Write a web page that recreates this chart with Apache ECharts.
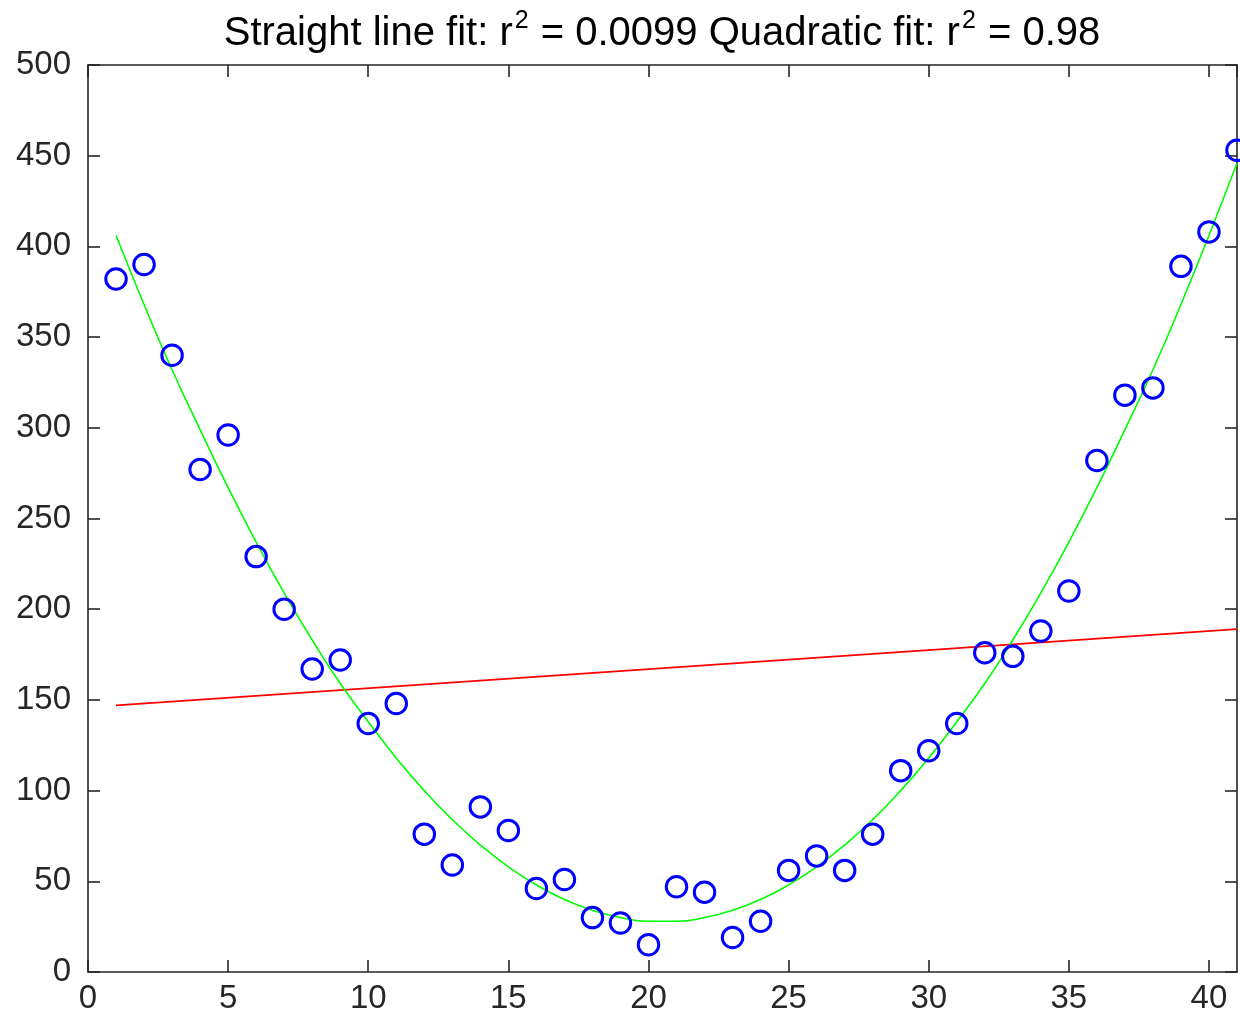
<!DOCTYPE html>
<html>
<head>
<meta charset="utf-8">
<script src="https://cdn.jsdelivr.net/npm/echarts@6/dist/echarts.min.js"></script>
<style>
  html, body { margin: 0; padding: 0; background: #fff; }
  #chart { width: 1240px; height: 1018px; }
</style>
</head>
<body>
<div id="chart"></div>
<script>
// Observations
const xs = [1,2,3,4,5,6,7,8,9,10,11,12,13,14,15,16,17,18,19,20,21,22,23,24,25,26,27,28,29,30,31,32,33,34,35,36,37,38,39,40,41];
const ys = [382,390,340,277,296,229,200,167,172,137,148,76,59,91,78,46,51,30,27,15,47,44,19,28,56,64,56,76,111,122,137,176,174,188,210,282,318,322,389,408,453];

// Straight line fit, endpoints
const lineX = [1, 41];
const lineY = [147, 189];

// Quadratic fit, sampled at each x
const quadY = [406,368,332,299,267,237,209,183,159,138,118,100,84,70,58,48,40,34,30,28,28,30,34,40,48,58,70,84,100,118,138,159,183,209,237,267,299,332,368,406,446];

const xTicks = [0,5,10,15,20,25,30,35,40];

const axisColor = '#262626';
const font = 'Liberation Sans, Arial, Helvetica, sans-serif';

const chart = echarts.init(document.getElementById('chart'));

// Shared look for the four sides of the box
function frameAxis() {
  return {
    axisLine: { show: true, onZero: false, lineStyle: { color: axisColor, width: 1.6 } },
    axisTick: { show: true, inside: true, length: 12, lineStyle: { color: axisColor, width: 1.6 } },
    splitLine: { show: false }
  };
}

chart.setOption({
  animation: false,
  backgroundColor: '#fff',
  title: {
    text: '{a|Straight line fit: r}{s|2}{a| = 0.0099 Quadratic fit: r}{s|2}{a| = 0.98}',
    left: 657,
    top: 5,
    textAlign: 'center',
    textStyle: {
      rich: {
        a: { fontFamily: font, fontSize: 40, fontWeight: 'normal', color: '#000', verticalAlign: 'bottom', lineHeight: 44 },
        s: { fontFamily: font, fontSize: 25, fontWeight: 'normal', color: '#000', verticalAlign: 'bottom', lineHeight: 44, padding: [0, 1, 20, 2] }
      }
    }
  },
  grid: { left: 88, right: 3, top: 65, bottom: 46, containLabel: false },
  xAxis: [
    Object.assign({
      type: 'value', min: 0, max: 41, interval: 5, position: 'bottom',
      axisLabel: {
        color: axisColor, fontFamily: font, fontSize: 33, margin: 10,
        showMaxLabel: false,
        formatter: v => xTicks.indexOf(v) >= 0 ? String(v) : ''
      }
    }, frameAxis()),
    Object.assign({
      type: 'value', min: 0, max: 41, interval: 5, position: 'top',
      axisLabel: { show: false }
    }, frameAxis())
  ],
  yAxis: [
    Object.assign({
      type: 'value', min: 0, max: 500, interval: 50, position: 'left',
      axisLabel: { color: axisColor, fontFamily: font, fontSize: 33, margin: 17 }
    }, frameAxis()),
    Object.assign({
      type: 'value', min: 0, max: 500, interval: 50, position: 'right',
      axisLabel: { show: false }
    }, frameAxis())
  ],
  series: [
    {
      type: 'line',
      data: lineX.map((x, i) => [x, lineY[i]]),
      showSymbol: false,
      lineStyle: { color: '#ff0000', width: 1.6 },
      z: 2
    },
    {
      type: 'line',
      data: xs.map((x, i) => [x, quadY[i]]),
      smooth: true,
      showSymbol: false,
      lineStyle: { color: '#00ff00', width: 1.6 },
      z: 3
    },
    {
      type: 'scatter',
      data: xs.map((x, i) => [x, ys[i]]),
      symbol: 'circle',
      symbolSize: 20.5,
      itemStyle: { color: 'rgba(0,0,0,0)', borderColor: '#0000ff', borderWidth: 3, opacity: 1 },
      clip: false,
      z: 4
    }
  ]
});
</script>
</body>
</html>
